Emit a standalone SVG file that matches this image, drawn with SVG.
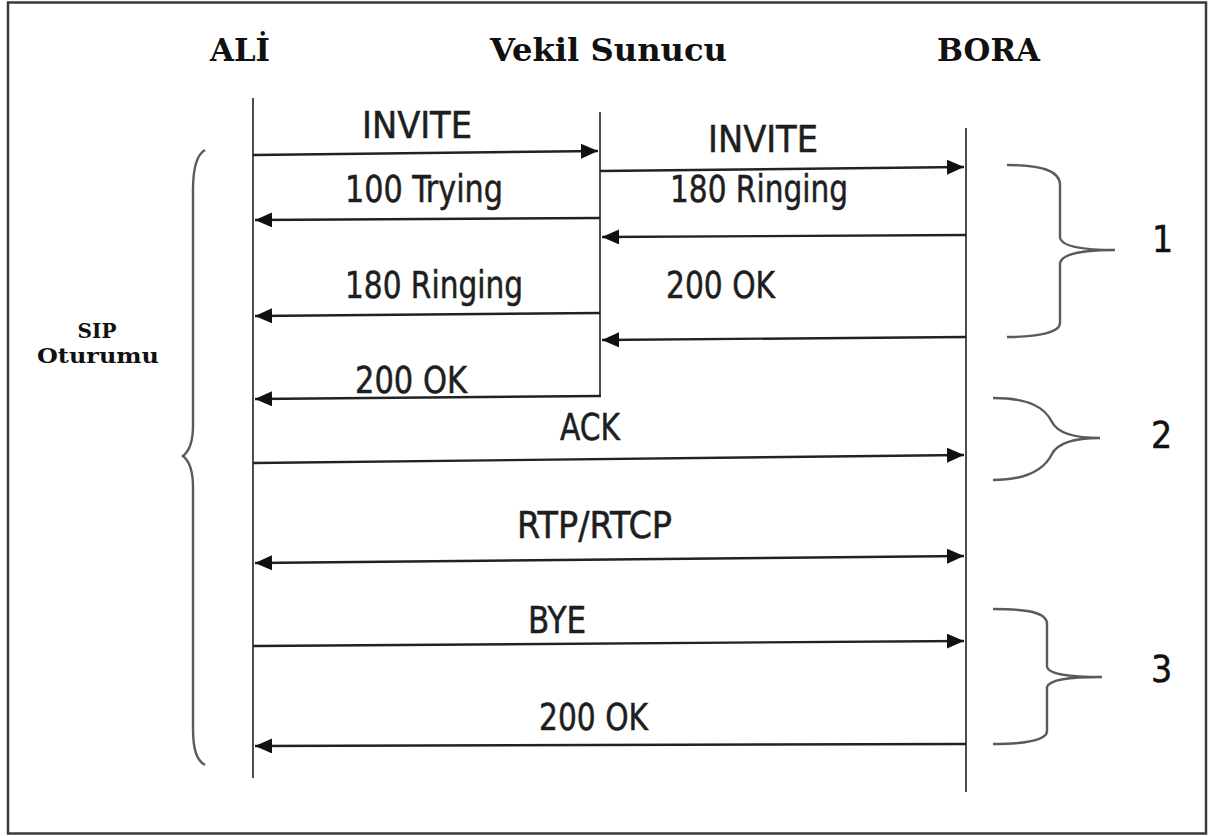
<svg xmlns="http://www.w3.org/2000/svg" width="1211" height="836" viewBox="0 0 1211 836">
  <style>
    .frame { fill: #ffffff; stroke: #3a3a3a; stroke-width: 2.5; }
    .life { stroke: #4d4d4d; stroke-width: 2; fill: none; }
    .msg { stroke: #222222; stroke-width: 2.4; fill: none; marker-end: url(#head); }
    .msg2 { stroke: #222222; stroke-width: 2.4; fill: none; marker-start: url(#head); marker-end: url(#head); }
    .brace { stroke: #5a5a5a; stroke-width: 2.4; fill: none; }
    .title { font-family: "DejaVu Serif", "Liberation Serif", serif; font-weight: bold; font-size: 31px; fill: #111111; }
    .side { font-family: "DejaVu Serif", "Liberation Serif", serif; font-weight: bold; font-size: 20px; fill: #111111; text-anchor: middle; }
    .lbl { font-family: "DejaVu Sans Condensed", "DejaVu Sans", "Liberation Sans", sans-serif; font-size: 37px; fill: #1e1e1e; stroke: #1e1e1e; stroke-width: 0.5; }
    .num { font-family: "DejaVu Sans Condensed", "DejaVu Sans", "Liberation Sans", sans-serif; font-size: 37px; fill: #111111; stroke: #111111; stroke-width: 0.5; }
  </style>
  <defs>
    <marker id="head" viewBox="0 0 17 15" refX="17" refY="7.5" markerWidth="17" markerHeight="15" markerUnits="userSpaceOnUse" orient="auto-start-reverse">
      <path d="M0,0 L17,7.5 L0,15 z" fill="#111111"/>
    </marker>
  </defs>

  <rect class="frame" x="8" y="2.5" width="1198" height="831"/>

  <!-- participants -->
  <g id="ali">
    <text class="title" x="210" y="61" textLength="60" lengthAdjust="spacingAndGlyphs">ALİ</text>
    <line class="life" x1="253" y1="98" x2="253" y2="778"/>
  </g>
  <g id="vekil-sunucu">
    <text class="title" x="490" y="61" textLength="237" lengthAdjust="spacingAndGlyphs">Vekil Sunucu</text>
    <line class="life" x1="600" y1="112" x2="600" y2="396"/>
  </g>
  <g id="bora">
    <text class="title" x="937" y="61" textLength="103" lengthAdjust="spacingAndGlyphs">BORA</text>
    <line class="life" x1="966" y1="128" x2="966" y2="792"/>
  </g>

  <!-- session brace on the left -->
  <g id="sip-oturumu">
    <path class="brace" d="M205 150 C196 155 193 170 193 190 L193 426 C193 445 188 452 183 456 C188 460 193 467 193 487 L193 728 C193 748 196 760 205 765"/>
    <text class="side" x="97" y="338">SIP</text>
    <text class="side" x="98" y="363" textLength="122" lengthAdjust="spacingAndGlyphs">Oturumu</text>
  </g>

  <!-- phase braces on the right -->
  <g id="phase-1">
    <path class="brace" d="M1007 165 C1040 165 1060 170 1060 185 L1060 238 C1062 246 1080 250 1115 250 C1080 250 1062 254 1060 263 L1060 323 C1060 332 1040 337 1007 337"/>
    <text class="num" x="1152" y="252">1</text>
  </g>
  <g id="phase-2">
    <path class="brace" d="M993 398 C1030 398 1045 408 1052 422 C1058 434 1075 438 1100 438 C1075 438 1058 442 1052 454 C1045 468 1030 480 993 480"/>
    <text class="num" x="1151" y="448">2</text>
  </g>
  <g id="phase-3">
    <path class="brace" d="M993 609 C1026 609 1047 612 1047 624 L1047 667 C1049 674 1066 677 1102 677 C1066 677 1049 680 1047 687 L1047 731 C1047 740 1026 744 993 744"/>
    <text class="num" x="1151" y="682">3</text>
  </g>

  <!-- messages -->
  <g id="connectors">
    <line class="msg" x1="253" y1="155" x2="598" y2="151"/>
    <line class="msg" x1="600" y1="171" x2="964" y2="167"/>
    <line class="msg" x1="600" y1="218" x2="255" y2="220"/>
    <line class="msg" x1="966" y1="235" x2="602" y2="237"/>
    <line class="msg" x1="600" y1="313" x2="255" y2="316"/>
    <line class="msg" x1="966" y1="337" x2="602" y2="340"/>
    <line class="msg" x1="601" y1="396" x2="255" y2="399"/>
    <line class="msg" x1="253" y1="463" x2="964" y2="455"/>
    <line class="msg2" x1="255" y1="563" x2="964" y2="556"/>
    <line class="msg" x1="253" y1="646" x2="964" y2="641"/>
    <line class="msg" x1="966" y1="744" x2="255" y2="746"/>
  </g>

  <g id="labels">
    <text class="lbl" x="362" y="138" textLength="110" lengthAdjust="spacingAndGlyphs">INVITE</text>
    <text class="lbl" x="708" y="152" textLength="110" lengthAdjust="spacingAndGlyphs">INVITE</text>
    <text class="lbl" x="345" y="202" textLength="158" lengthAdjust="spacingAndGlyphs">100 Trying</text>
    <text class="lbl" x="670" y="202" textLength="178" lengthAdjust="spacingAndGlyphs">180 Ringing</text>
    <text class="lbl" x="345" y="298" textLength="178" lengthAdjust="spacingAndGlyphs">180 Ringing</text>
    <text class="lbl" x="666" y="298" textLength="109" lengthAdjust="spacingAndGlyphs">200 OK</text>
    <text class="lbl" x="355" y="393" textLength="112" lengthAdjust="spacingAndGlyphs">200 OK</text>
    <text class="lbl" x="560" y="440" textLength="60" lengthAdjust="spacingAndGlyphs">ACK</text>
    <text class="lbl" x="517" y="538" textLength="155" lengthAdjust="spacingAndGlyphs">RTP/RTCP</text>
    <text class="lbl" x="528" y="633" textLength="58" lengthAdjust="spacingAndGlyphs">BYE</text>
    <text class="lbl" x="539" y="730" textLength="109" lengthAdjust="spacingAndGlyphs">200 OK</text>
  </g>
</svg>
